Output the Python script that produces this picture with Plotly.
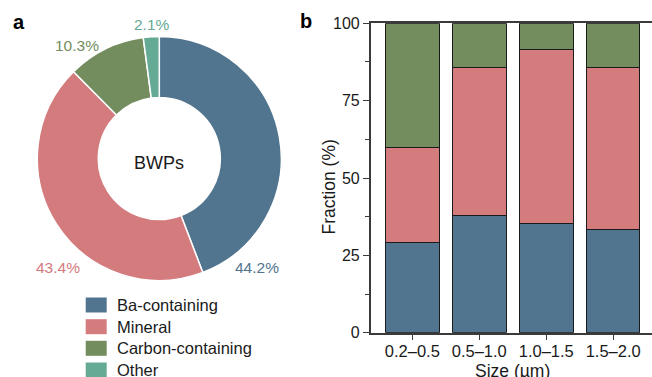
import plotly.graph_objects as go

W, H = 652, 377

# ---- data ----
categories = ["Ba-containing", "Mineral", "Carbon-containing", "Other"]
pie_values = [44.2, 43.4, 10.3, 2.1]
colors = ["#52758F", "#D47B7E", "#738D5E", "#65AA94"]

size_bins = ["0.2–0.5", "0.5–1.0", "1.0–1.5", "1.5–2.0"]
ba_frac = [29.2, 37.9, 35.2, 33.4]
mineral_frac = [30.8, 47.7, 56.4, 52.4]
carbon_frac = [40.0, 14.4, 8.4, 14.2]
bar_series = [ba_frac, mineral_frac, carbon_frac]

y_ticks = [0, 25, 50, 75, 100]

FONT = "Liberation Sans, Arial, sans-serif"

def px_x(x):
    return x / W

def px_y(y):
    return 1 - y / H

fig = go.Figure()

# ---- pie (panel a) ----
cx, cy, r = 159.3, 158.5, 122
fig.add_trace(go.Pie(
    labels=categories, values=pie_values, hole=0.5, sort=False,
    direction="clockwise", rotation=0, textinfo="none",
    marker=dict(colors=colors, line=dict(color="white", width=1.5)),
    domain=dict(x=[px_x(cx - r), px_x(cx + r)], y=[px_y(cy + r), px_y(cy - r)]),
    showlegend=False, hoverinfo="label+percent",
))

# ---- stacked bars (panel b) ----
for name, vals, col in zip(categories[:3], bar_series, colors[:3]):
    fig.add_trace(go.Bar(
        x=size_bins, y=vals, name=name, marker=dict(color=col, line=dict(color="#1a1a1a", width=1)),
        width=0.8, showlegend=False, xaxis="x", yaxis="y",
    ))

ax_col = "#3a3a3a"
fig.update_layout(
    template="none",
    width=W, height=H, margin=dict(l=0, r=0, t=0, b=0, pad=0, autoexpand=False),
    paper_bgcolor="white", plot_bgcolor="white",
    barmode="stack", showlegend=False,
    font=dict(family=FONT, color="#1a1a1a", size=16),
    xaxis=dict(domain=[px_x(370.7), 1.0], anchor="y", type="category", automargin=False,
               range=[-0.622, 3.58], showline=True, linecolor=ax_col, linewidth=1.5,
               mirror=False, ticks="outside", ticklen=6, tickwidth=1.2, tickcolor=ax_col,
               ticklabelstandoff=-3,
               showgrid=False, zeroline=False, tickfont=dict(size=16.5, family=FONT, color="#1a1a1a")),
    xaxis2=dict(domain=[px_x(370.7), 1.0], anchor="y2", overlaying="x", showline=True, automargin=False,
                linecolor=ax_col, linewidth=1.5, side="top", showticklabels=False,
                ticks="", showgrid=False, zeroline=False, range=[0, 1]),
    yaxis=dict(domain=[px_y(332.7), px_y(23.3)], range=[0, 100], tickvals=y_ticks, automargin=False,
               showline=True, linecolor=ax_col, linewidth=1.5, ticks="outside",
               ticklen=6, tickwidth=1.2, tickcolor=ax_col, showgrid=False, zeroline=False,
               minor=dict(dtick=12.5, ticks="outside", ticklen=3.5, tickwidth=1.2, tickcolor=ax_col, showgrid=False),
               tickfont=dict(size=16, family=FONT, color="#1a1a1a")),
    yaxis2=dict(domain=[px_y(332.7), px_y(23.3)], anchor="x2", overlaying="y", range=[0, 1], automargin=False,
                showline=False, showticklabels=False, showgrid=False, zeroline=False),
)
# invisible trace on top axis so it is drawn
fig.add_trace(go.Scatter(x=[0], y=[0], xaxis="x2", yaxis="y2", mode="markers",
                         marker=dict(opacity=0), showlegend=False, hoverinfo="skip"))

ann = []
# panel letters
ann.append(dict(x=px_x(18.5), y=px_y(22), text="<b>a</b>", font=dict(size=20, family=FONT, color="black")))
ann.append(dict(x=px_x(306), y=px_y(21), text="<b>b</b>", font=dict(size=20, family=FONT, color="black")))
# donut centre text
ann.append(dict(x=px_x(cx), y=px_y(163), text="BWPs", font=dict(size=18, family=FONT, color="#1a1a1a")))
# pie percentage labels
label_pos = [(257, 267), (58, 267), (77, 45), (152, 25)]
for (lx, ly), v, c in zip(label_pos, pie_values, colors):
    ann.append(dict(x=px_x(lx), y=px_y(ly), text=f"{v:.1f}%", font=dict(size=15.5, family=FONT, color=c)))
# axis titles
ann.append(dict(x=px_x(328), y=px_y(187.5), text="Fraction (%)", textangle=-90,
                font=dict(size=17.5, family=FONT, color="#1a1a1a")))
ann.append(dict(x=px_x(512), y=px_y(370.5), text="Size (µm)", font=dict(size=17.5, family=FONT, color="#1a1a1a")))

shapes = []
# manual legend
leg_y = [305, 326.7, 348.3, 370]
for name, col, ly in zip(categories, colors, leg_y):
    shapes.append(dict(type="rect", xref="paper", yref="paper",
                       x0=px_x(85.7), x1=px_x(106.7), y0=px_y(ly + 7.5), y1=px_y(ly - 7.5),
                       fillcolor=col, line=dict(width=0)))
    ann.append(dict(x=px_x(115), y=px_y(ly), text=name, xanchor="left",
                    font=dict(size=16.5, family=FONT, color="#1a1a1a")))

for a in ann:
    a.setdefault("xanchor", "center")
    a.update(xref="paper", yref="paper", showarrow=False, yanchor="middle")
fig.update_layout(annotations=ann, shapes=shapes)

fig.write_html("out.html")
